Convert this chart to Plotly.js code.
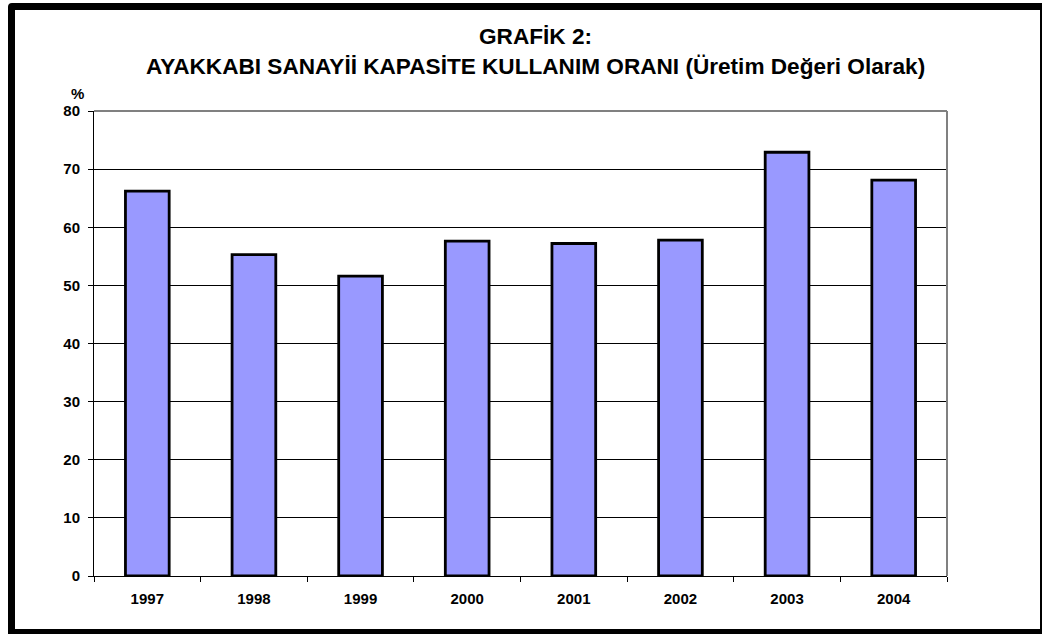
<!DOCTYPE html>
<html>
<head>
<meta charset="utf-8">
<script src="https://cdn.plot.ly/plotly-3.0.1.min.js"></script>
<style>
  html, body { margin: 0; padding: 0; background: #ffffff; overflow: hidden; }
  #chart { position: absolute; left: 0; top: 0; width: 1042px; height: 635px; }
  #frame { position: absolute; left: 8px; top: 3px; width: 1025px; height: 619px;
           border-style: solid; border-color: #000; border-width: 7px 7px 5px 7px;
           border-radius: 4px 0 0 0; pointer-events: none; }
</style>
</head>
<body>
<div id="chart"></div>
<div id="frame"></div>
<script>
const years = ["1997", "1998", "1999", "2000", "2001", "2002", "2003", "2004"];
const capacityUse = [66.2, 55.3, 51.6, 57.6, 57.2, 57.8, 72.9, 68.1];
const yTicks = [0, 10, 20, 30, 40, 50, 60, 70, 80];
const titleLines = ["GRAFİK 2:", "AYAKKABI SANAYİİ KAPASİTE KULLANIM ORANI (Üretim Değeri Olarak)"];
const yUnit = "%";

const font = "Liberation Sans, Arial, sans-serif";

const trace = {
  type: "bar",
  x: years,
  y: capacityUse,
  marker: { color: "#9999FF", line: { color: "#000000", width: 2.8 } },
  width: 0.41,
  hoverinfo: "x+y"
};

const layout = {
  width: 1042, height: 635,
  margin: { l: 94, r: 95, t: 111, b: 59 },
  paper_bgcolor: "rgba(0,0,0,0)",
  plot_bgcolor: "#ffffff",
  showlegend: false,
  font: { family: font, color: "#000", size: 15 },
  xaxis: {
    type: "category",
    showline: true, linecolor: "#000", linewidth: 1,
    ticks: "outside", ticklen: 5, tickcolor: "#000", tickson: "boundaries",
    ticklabelstandoff: 9,
    tickfont: { family: font, size: 15, color: "#000", weight: "bold" },
    showgrid: false, fixedrange: true
  },
  yaxis: {
    range: [0, 80],
    tickvals: yTicks,
    showline: true, linecolor: "#000", linewidth: 1,
    ticks: "outside", ticklen: 5, tickcolor: "#000",
    ticklabelstandoff: 5,
    tickfont: { family: font, size: 15, color: "#000", weight: "bold" },
    showgrid: true, gridcolor: "#000", gridwidth: 1,
    zeroline: false, fixedrange: true
  },
  shapes: [
    { type: "line", xref: "paper", yref: "paper", x0: 0, x1: 1, y0: 1, y1: 1,
      line: { color: "#808080", width: 2 }, layer: "above" },
    { type: "line", xref: "paper", yref: "paper", x0: 1, x1: 1, y0: 0, y1: 1,
      line: { color: "#808080", width: 2 }, layer: "above" }
  ],
  annotations: [
    { text: "<b>" + titleLines[0] + "</b>", xref: "paper", yref: "paper",
      x: 0.518, y: 1.160, xanchor: "center", yanchor: "middle", showarrow: false,
      font: { family: font, size: 22.6, color: "#000" } },
    { text: "<b>" + titleLines[1] + "</b>", xref: "paper", yref: "paper",
      x: 0.518, y: 1.095, xanchor: "center", yanchor: "middle", showarrow: false,
      font: { family: font, size: 22.6, color: "#000" } },
    { text: "<b>" + yUnit + "</b>", xref: "paper", yref: "paper",
      x: -0.019, y: 1.037, xanchor: "center", yanchor: "middle", showarrow: false,
      font: { family: font, size: 15, color: "#000" } }
  ]
};

Plotly.newPlot("chart", [trace], layout, { displayModeBar: false, staticPlot: true });
</script>
</body>
</html>
